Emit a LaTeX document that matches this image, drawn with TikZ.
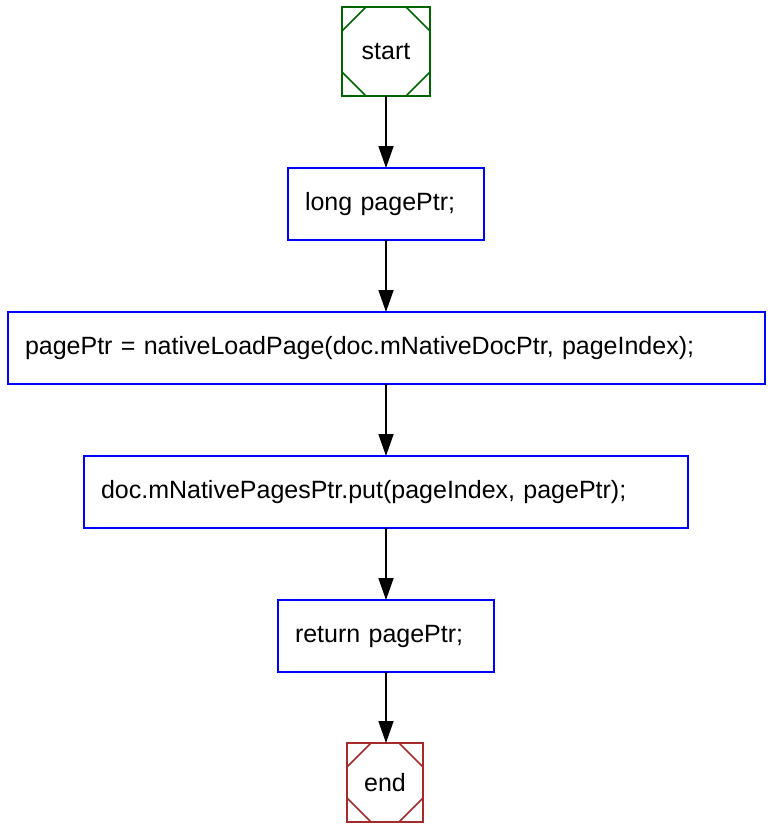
\documentclass[tikz,border=0pt]{standalone}
\usepackage{fontspec}
\setmainfont{Liberation Sans}
\usetikzlibrary{arrows.meta}
\definecolor{startgreen}{RGB}{0,100,0}
\definecolor{endred}{RGB}{165,42,42}
\begin{document}
\begin{tikzpicture}[x=1pt,y=-1pt,
  every node/.style={font=\fontsize{25}{30}\selectfont, outer sep=0pt},
  stmt/.style={draw=blue, line width=2pt, minimum height=72pt,
    inner xsep=17pt, align=left},
  term/.style={draw=#1, line width=1.5pt, inner sep=0pt},
  flow/.style={line width=1.5pt, -{Triangle[length=22pt,width=15pt]}}
]
\useasboundingbox (0,0) rectangle (772,832);

% terminals
\node[term=startgreen, minimum width=88pt, minimum height=89pt] (s) at (386,51.5) {start};
\node[term=endred, minimum width=76pt, minimum height=79pt] (e) at (385,782.5) {end};

% corner cuts of the terminals
\foreach \n/\c in {s/startgreen, e/endred}{
  \draw[\c, line width=1.5pt]
    ([yshift=-24pt]\n.north west) -- ([xshift=24pt]\n.north west)
    ([yshift=-24pt]\n.north east) -- ([xshift=-24pt]\n.north east)
    ([yshift=24pt]\n.south west) -- ([xshift=24pt]\n.south west)
    ([yshift=24pt]\n.south east) -- ([xshift=-24pt]\n.south east);
}

% statements
\node[stmt, text width=162pt] (a) at (386,204) {long pagePtr;};
\node[stmt, text width=723pt] (b) at (386.5,348) {pagePtr = nativeLoadPage(doc.mNativeDocPtr, pageIndex);};
\node[stmt, text width=570pt] (c) at (386,492) {doc.mNativePagesPtr.put(pageIndex, pagePtr);};
\node[stmt, text width=182pt] (d) at (386,636) {return pagePtr;};

% control flow
\draw[flow] (s.south) -- (a.north);
\draw[flow] (a.south) -- (a.south |- b.north);
\draw[flow] (a.south |- b.south) -- (a.south |- c.north);
\draw[flow] (a.south |- c.south) -- (d.north);
\draw[flow] (d.south) -- (d.south |- e.north);
\end{tikzpicture}
\end{document}
